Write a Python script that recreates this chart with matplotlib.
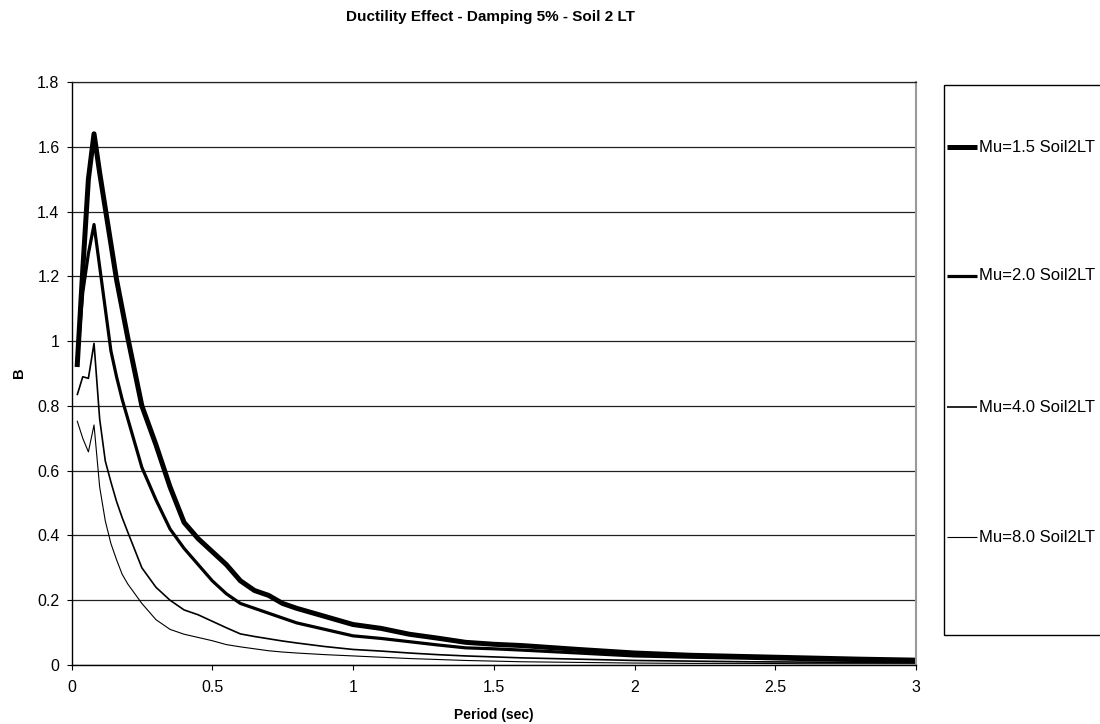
import matplotlib
matplotlib.use("Agg")
import matplotlib.pyplot as plt
from matplotlib.lines import Line2D
from matplotlib.patches import Rectangle

plt.rcParams['font.family'] = ['Liberation Sans', 'DejaVu Sans']

period = [0.02, 0.04, 0.06, 0.08, 0.10, 0.12, 0.14, 0.16, 0.18, 0.20,
          0.25, 0.30, 0.35, 0.40, 0.45, 0.50, 0.55, 0.60, 0.65, 0.70,
          0.75, 0.80, 0.90, 1.0, 1.1, 1.2, 1.3, 1.4, 1.5, 1.6,
          1.8, 2.0, 2.2, 2.4, 2.6, 2.8, 3.0]

mu15 = [0.92, 1.22, 1.50, 1.64, 1.52, 1.41, 1.30, 1.19, 1.10, 1.01,
        0.80, 0.68, 0.55, 0.44, 0.39, 0.35, 0.31, 0.26, 0.23, 0.215,
        0.19, 0.175, 0.15, 0.125, 0.113, 0.095, 0.083, 0.07, 0.064, 0.06,
        0.048, 0.037, 0.03, 0.026, 0.022, 0.018, 0.015]

mu20 = [0.935, 1.15, 1.27, 1.36, 1.23, 1.10, 0.97, 0.89, 0.82, 0.76,
        0.61, 0.51, 0.42, 0.36, 0.31, 0.26, 0.22, 0.19, 0.175, 0.16,
        0.145, 0.13, 0.11, 0.09, 0.082, 0.072, 0.062, 0.053, 0.05, 0.046,
        0.037, 0.028, 0.024, 0.021, 0.017, 0.014, 0.012]

mu40 = [0.833, 0.89, 0.885, 0.993, 0.76, 0.63, 0.565, 0.505, 0.455, 0.41,
        0.30, 0.24, 0.20, 0.17, 0.155, 0.135, 0.115, 0.096, 0.088, 0.081,
        0.074, 0.068, 0.057, 0.048, 0.043, 0.037, 0.032, 0.028, 0.025, 0.022,
        0.018, 0.014, 0.012, 0.010, 0.009, 0.008, 0.007]

mu80 = [0.754, 0.70, 0.658, 0.741, 0.55, 0.445, 0.375, 0.325, 0.28, 0.25,
        0.19, 0.14, 0.11, 0.095, 0.085, 0.075, 0.063, 0.056, 0.05, 0.044,
        0.04, 0.037, 0.032, 0.028, 0.024, 0.02, 0.017, 0.014, 0.012, 0.010,
        0.008, 0.006, 0.005, 0.005, 0.004, 0.004, 0.004]

series_labels = ["Mu=1.5 Soil2LT", "Mu=2.0 Soil2LT", "Mu=4.0 Soil2LT", "Mu=8.0 Soil2LT"]
series_values = [mu15, mu20, mu40, mu80]
widths = [3.6, 2.3, 1.2, 0.8]

x_ticks = [0, 0.5, 1, 1.5, 2, 2.5, 3]
x_tick_labels = ["0", "0.5", "1", "1.5", "2", "2.5", "3"]
y_ticks = [0, 0.2, 0.4, 0.6, 0.8, 1.0, 1.2, 1.4, 1.6, 1.8]
y_tick_labels = ["0", "0.2", "0.4", "0.6", "0.8", "1", "1.2", "1.4", "1.6", "1.8"]

W, H = 1100, 724
fig = plt.figure(figsize=(W / 100, H / 100), dpi=100)
L, R, T, B = 71.5, 916, 82, 665
ax = fig.add_axes([L / W, 1 - B / H, (R - L) / W, (B - T) / H])

for vals, lw, lab in zip(series_values, widths, series_labels):
    ax.plot(period, vals, color='black', linewidth=lw, label=lab,
            solid_joinstyle='round', solid_capstyle='butt')

ax.set_xlim(0, 3)
ax.set_ylim(0, 1.8)
ax.set_xticks(x_ticks)
ax.set_xticklabels(x_tick_labels, fontsize=11.5)
ax.set_yticks(y_ticks)
ax.set_yticklabels(y_tick_labels, fontsize=11.5)
ax.yaxis.grid(True, color='#222222', linewidth=0.9)
ax.set_axisbelow(True)
ax.tick_params(axis='both', direction='out', length=3.6, width=0.8, color='black')
ax.tick_params(axis='x', pad=7)
ax.tick_params(axis='y', pad=5)
for s in ['left', 'bottom']:
    ax.spines[s].set_color('black')
    ax.spines[s].set_linewidth(1.0)
ax.spines['top'].set_color('#222222')
ax.spines['top'].set_linewidth(0.9)
ax.spines['right'].set_color('#999999')
ax.spines['right'].set_linewidth(1.5)

fig.text(494 / W, 1 - 715 / H, "Period (sec)", ha='center', va='center',
         fontsize=10, fontweight='bold')
fig.text(19 / W, 1 - 373 / H, "B", ha='center', va='center', rotation=90,
         fontsize=10.5, fontweight='bold')

fig.text(490 / W, 1 - 17 / H, "Ductility Effect - Damping 5% - Soil 2 LT",
         ha='center', va='center', fontsize=11, fontweight='bold')

# legend box
fig.patches.append(Rectangle((944 / W, 1 - 635 / H), 170 / W, 550 / H,
                             transform=fig.transFigure, facecolor='white',
                             edgecolor='black', linewidth=1.0))
ys = [147, 276, 407, 537]
for y, lw, lab in zip(ys, widths, series_labels):
    fig.lines.append(Line2D([947 / W, 977 / W], [1 - y / H, 1 - y / H],
                            transform=fig.transFigure, color='black',
                            linewidth=lw, solid_capstyle='butt'))
    fig.text(979 / W, 1 - y / H, lab, ha='left', va='center', fontsize=12)

fig.savefig("out.png", dpi=100)
